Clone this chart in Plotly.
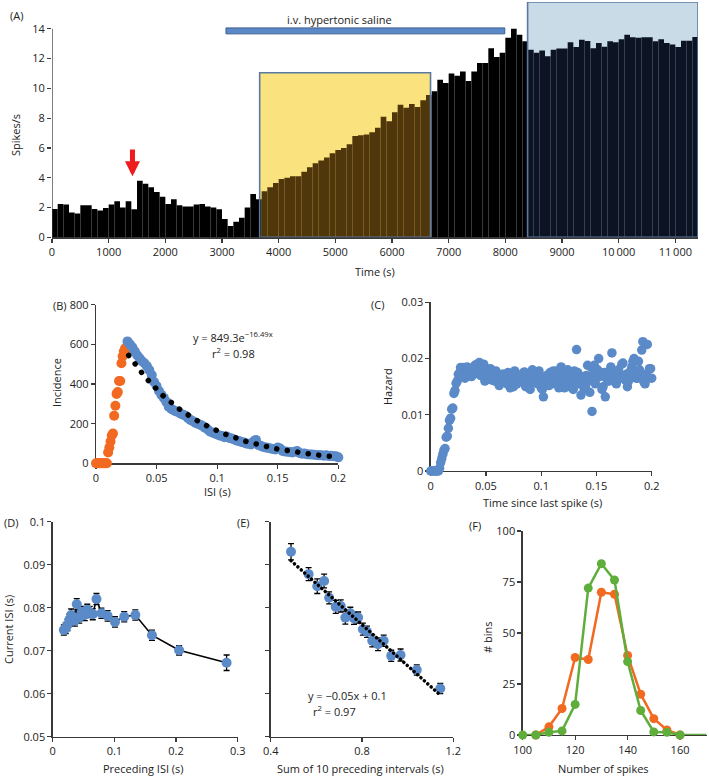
import numpy as np
import plotly.graph_objects as go

W, H = 709, 776
def px(x): return x / W
def py(y): return 1 - y / H

FONT = "Open Sans"
AX = "#3a3a3a"
BLUE = "#5b8ac8"
ORANGE = "#f26a22"
GREEN = "#5fae3b"

# ---------------- Panel A data ----------------
bin_width_s = 100
rate_spikes_s = [1.9, 2.24, 2.2, 1.66, 1.6, 2.15, 2.15, 1.9, 1.8, 1.97, 2.2, 2.42, 2.0, 2.42, 1.88,
                 3.8, 3.6, 3.36, 3.05, 2.73, 2.24, 2.55, 2.15, 2.06, 2.06, 2.2, 2.24, 2.06, 2.0, 1.88,
                 1.23, 0.76, 1.05, 1.32, 2.0, 2.9, 2.55,
                 3.1, 3.36, 3.65, 3.92, 4.0, 4.1, 4.1, 4.4, 4.7, 4.98, 5.16, 5.36, 5.65, 5.87, 6.0, 6.25,
                 6.8, 6.85, 6.9, 7.05, 7.35, 8.1, 7.8, 8.4, 8.9, 8.7, 8.95, 8.75, 9.2, 9.55,
                 9.8, 10.58, 10.36, 11.0, 10.85, 11.14, 10.5, 11.14, 11.7, 11.7, 12.7, 12.1, 12.4, 13.4,
                 14.0, 13.6, 13.16,
                 12.6, 12.4, 12.55, 12.15, 12.6, 12.67, 12.67, 13.1, 12.78, 13.27, 13.18, 12.7, 13.05,
                 12.8, 13.16, 13.1, 13.3, 13.6, 13.43, 13.4, 13.43, 13.43, 13.16, 13.3, 13.05, 12.94,
                 12.78, 13.2, 13.2, 13.45]
a_xticks = [0, 1000, 2000, 3000, 4000, 5000, 6000, 7000, 8000, 9000, 10000, 11000]
a_xticktext = ["0", "1000", "2000", "3000", "4000", "5000", "6000", "7000", "8000", "9000",
               "10\u2009000", "11\u2009000"]
a_yticks = [0, 2, 4, 6, 8, 10, 12, 14]
yellow_box = [3665, 6680, 11.05]
blue_box = [8393, 11400, 15.8]
saline_period = [3070, 7990]
saline_level = [13.66, 14.06]
arrow_time = 1420
arrow_y = [4.1, 6.0]

# ---------------- Panel B data ----------------
b_orange_x = [0.000, 0.001, 0.002, 0.003, 0.004, 0.005, 0.006, 0.007, 0.008, 0.009, 0.010, 0.011,
              0.012, 0.013, 0.014, 0.015, 0.016, 0.017, 0.018, 0.019, 0.020, 0.021, 0.022, 0.023,
              0.024, 0.025]
b_orange_y = [0, 0, 0, 0, 0, 0, 0, 0, 0, 0, 55, 80, 110, 140, 150, 240, 290, 350, 360, 415, 415,
              505, 540, 565, 580, 560]
b_blue_start, b_blue_step = 0.026, 0.002
b_blue_y = [615, 600, 585, 565, 545, 530, 515, 505, 490, 470, 445, 410, 390, 365, 345, 330, 310,
            285, 275, 268, 262, 258, 250, 245, 240, 228, 218, 212, 205, 200, 195, 188, 180, 172,
            160, 155, 150, 145, 140, 138, 132, 135, 128, 125, 120, 115, 112, 108, 105, 100, 98, 95,
            110, 118, 92, 88, 82, 80, 78, 75, 72, 70, 80, 75, 62, 60, 58, 57, 55, 58, 62, 52, 48,
            50, 46, 45, 44, 43, 42, 40, 41, 38, 40, 37, 38, 36, 35, 30]
b_fit_a, b_fit_k = 849.3, -16.49
b_fit_range = [0.027, 0.195]

# ---------------- Panel C data ----------------
c_rise_x = [0.000, 0.001, 0.002, 0.003, 0.004, 0.005, 0.006, 0.007, 0.008, 0.009, 0.010, 0.011,
            0.012, 0.013, 0.014, 0.015, 0.016, 0.017, 0.018, 0.019, 0.020, 0.021, 0.022, 0.023,
            0.024, 0.025, 0.026, 0.027]
c_rise_y = [0, 0, 0, 0, 0, 0, 0, 0, 0.0005, 0.0015, 0.0022, 0.0030, 0.0037, 0.0040, 0.0060,
            0.0062, 0.0076, 0.0090, 0.0094, 0.0110, 0.0112, 0.0138, 0.0143, 0.0156, 0.0160,
            0.0172, 0.0174, 0.0184]
c_even_start, c_odd_start, c_step = 0.028, 0.029, 0.002
c_even_y = [0.0180, 0.0184, 0.0176, 0.0170, 0.0182, 0.0175, 0.0188, 0.0190, 0.0193, 0.0186,
            0.0190, 0.0180, 0.0170, 0.0182, 0.0165, 0.0160, 0.0168, 0.0152, 0.0165, 0.0172,
            0.0160, 0.0175, 0.0148, 0.0168, 0.0178, 0.0155, 0.0170, 0.0162, 0.0175, 0.0150,
            0.0165, 0.0145, 0.0180, 0.0158, 0.0170, 0.0178, 0.0148, 0.0132, 0.0165, 0.0158,
            0.0175, 0.0155, 0.0168, 0.0178, 0.0148, 0.0185, 0.0175, 0.0162, 0.0180, 0.0150,
            0.0168, 0.0178, 0.0216, 0.0155, 0.0135, 0.0160, 0.0150, 0.0188, 0.0140, 0.0106,
            0.0188, 0.0165, 0.0200, 0.0175, 0.0150, 0.0132, 0.0160, 0.0178, 0.0210, 0.0165,
            0.0155, 0.0180, 0.0170, 0.0192, 0.0162, 0.0150, 0.0175, 0.0185, 0.0200, 0.0165,
            0.0195, 0.0170, 0.0230, 0.0155, 0.0225, 0.0182, 0.0165]
c_odd_y = [0.0172, 0.0165, 0.0185, 0.0178, 0.0168, 0.0180, 0.0174, 0.0182, 0.0170, 0.0178,
           0.0160, 0.0172, 0.0176, 0.0162, 0.0170, 0.0178, 0.0158, 0.0165, 0.0172, 0.0160,
           0.0155, 0.0170, 0.0165, 0.0150, 0.0172, 0.0160, 0.0168, 0.0158, 0.0176, 0.0162,
           0.0150, 0.0168, 0.0160, 0.0172, 0.0155, 0.0165, 0.0145, 0.0160, 0.0170, 0.0152,
           0.0165, 0.0178, 0.0160, 0.0172, 0.0158, 0.0170, 0.0148, 0.0165, 0.0175, 0.0160,
           0.0145, 0.0165, 0.0175, 0.0155, 0.0168, 0.0145, 0.0170, 0.0160, 0.0185, 0.0172,
           0.0155, 0.0180, 0.0168, 0.0145, 0.0175, 0.0165, 0.0160, 0.0185, 0.0170, 0.0158,
           0.0176, 0.0165, 0.0190, 0.0168, 0.0172, 0.0160, 0.0178, 0.0195, 0.0170, 0.0165,
           0.0180, 0.0215, 0.0158, 0.0172, 0.0165, 0.0182]

# ---------------- Panel D data ----------------
d_prev_isi = [0.018, 0.021, 0.024, 0.027, 0.030, 0.033, 0.036, 0.039, 0.043, 0.047, 0.052, 0.056,
              0.060, 0.065, 0.071, 0.079, 0.089, 0.101, 0.116, 0.134, 0.161, 0.205, 0.282]
d_cur_isi = [0.0748, 0.0752, 0.0760, 0.0772, 0.0783, 0.0778, 0.0770, 0.0808, 0.0777, 0.0790,
             0.0783, 0.0795, 0.0790, 0.0785, 0.0820, 0.0787, 0.0781, 0.0767, 0.0779, 0.0783,
             0.0736, 0.0701, 0.0672]
d_err = [0.0012, 0.0012, 0.0013, 0.0013, 0.0014, 0.0013, 0.0013, 0.0013, 0.0013, 0.0013, 0.0013,
         0.0013, 0.0013, 0.0013, 0.0013, 0.0012, 0.0012, 0.0012, 0.0012, 0.0012, 0.0012, 0.0011,
         0.0018]

# ---------------- Panel E data ----------------
e_sum10 = [0.489, 0.566, 0.604, 0.634, 0.656, 0.685, 0.707, 0.727, 0.749, 0.765, 0.783, 0.804,
           0.822, 0.845, 0.870, 0.895, 0.928, 0.969, 1.040, 1.143]
e_cur_isi = [0.0930, 0.0878, 0.0850, 0.0862, 0.0823, 0.0802, 0.0804, 0.0777, 0.0787, 0.0775,
             0.0777, 0.0750, 0.0744, 0.0723, 0.0715, 0.0723, 0.0688, 0.0690, 0.0655, 0.0612]
e_err = [0.0019, 0.0015, 0.0017, 0.0016, 0.0014, 0.0015, 0.0014, 0.0015, 0.0014, 0.0014, 0.0013,
         0.0014, 0.0013, 0.0014, 0.0015, 0.0013, 0.0013, 0.0014, 0.0012, 0.0012]

# ---------------- Panel F data ----------------
f_green_x = [100, 105, 110, 115, 120, 125, 130, 135, 140, 145, 150, 155, 160, 165, 170]
f_green_y = [0, 0, 1.3, 2, 15, 72, 84, 76, 36, 12, 1.5, 1.3, 0, 0, 0]
f_orange_x = [105, 110, 115, 120, 125, 130, 135, 140, 145, 150, 155, 160]
f_orange_y = [0, 4, 13, 38, 37, 70, 69, 39, 20, 8, 2.5, 0]

# ======================================================
fig = go.Figure()
NOLINE = dict(width=0)

# Panel A bars
t_centers = [bin_width_s * (i + 0.5) for i in range(len(rate_spikes_s))]
def bar_color(t):
    if yellow_box[0] <= t <= yellow_box[1]:
        return "#50360b"
    if blue_box[0] <= t <= blue_box[1]:
        return "#0c1424"
    return "#000000"
fig.add_trace(go.Bar(x=t_centers, y=rate_spikes_s, width=bin_width_s,
                     marker=dict(color=[bar_color(t) for t in t_centers], line=NOLINE),
                     xaxis="x", yaxis="y"))

# Panel B
b_blue_x = [b_blue_start + b_blue_step * i for i in range(len(b_blue_y))]
fig.add_trace(go.Scatter(x=b_orange_x, y=b_orange_y, mode="markers",
                         marker=dict(color=ORANGE, size=10, line=NOLINE), cliponaxis=False,
                         xaxis="x2", yaxis="y2"))
fig.add_trace(go.Scatter(x=b_blue_x, y=b_blue_y, mode="markers",
                         marker=dict(color=BLUE, size=10, line=NOLINE), cliponaxis=False,
                         xaxis="x2", yaxis="y2"))
fit_x = np.linspace(b_fit_range[0], b_fit_range[1], 300)
fig.add_trace(go.Scatter(x=fit_x, y=b_fit_a * np.exp(b_fit_k * fit_x), mode="lines",
                         line=dict(color="black", width=5.5, dash="0.1px,10.5px"),
                         xaxis="x2", yaxis="y2"))

# Panel C
c_x = (list(c_rise_x) + [c_even_start + c_step * i for i in range(len(c_even_y))]
       + [c_odd_start + c_step * i for i in range(len(c_odd_y))])
c_y = list(c_rise_y) + list(c_even_y) + list(c_odd_y)
fig.add_trace(go.Scatter(x=c_x, y=c_y, mode="markers",
                         marker=dict(color=BLUE, size=9.5, line=NOLINE),
                         cliponaxis=False, xaxis="x3", yaxis="y3"))

# Panel D
fig.add_trace(go.Scatter(x=d_prev_isi, y=d_cur_isi, mode="lines+markers",
                         line=dict(color="black", width=1.6),
                         marker=dict(color=BLUE, size=10, line=NOLINE),
                         error_y=dict(type="data", array=d_err, color="black", thickness=1.3, width=3),
                         cliponaxis=False, xaxis="x4", yaxis="y4"))

# Panel E
slope, intercept = np.polyfit(e_sum10, e_cur_isi, 1)
tr_x = np.array([min(e_sum10), max(e_sum10)])
fig.add_trace(go.Scatter(x=e_sum10, y=e_cur_isi, mode="markers",
                         marker=dict(color=BLUE, size=10, line=NOLINE),
                         error_y=dict(type="data", array=e_err, color="black", thickness=1.3, width=3),
                         cliponaxis=False, xaxis="x5", yaxis="y5"))
fig.add_trace(go.Scatter(x=tr_x, y=slope * tr_x + intercept, mode="lines",
                         line=dict(color="black", width=3.5, dash="0.1px,4.5px"),
                         xaxis="x5", yaxis="y5"))

# Panel F
fig.add_trace(go.Scatter(x=f_orange_x, y=f_orange_y, mode="lines+markers",
                         line=dict(color=ORANGE, width=2.5),
                         marker=dict(color=ORANGE, size=9, line=NOLINE, opacity=1),
                         cliponaxis=False, xaxis="x6", yaxis="y6"))
fig.add_trace(go.Scatter(x=f_green_x, y=f_green_y, mode="lines+markers",
                         line=dict(color=GREEN, width=2.5),
                         marker=dict(color=GREEN, size=[9] * 13 + [0, 0], line=NOLINE, opacity=1),
                         cliponaxis=False, xaxis="x6", yaxis="y6"))

# ---------------- axes ----------------
def ax(domain, rng, anchor, tickvals=None, ticktext=None, showline=True, showticklabels=True):
    d = dict(domain=domain, range=rng, anchor=anchor, showline=showline, linecolor=AX,
             linewidth=1.3, ticks="outside", ticklen=4, tickwidth=1.2, tickcolor=AX,
             showgrid=False, zeroline=False, layer="below traces", automargin=False,
             showticklabels=showticklabels, fixedrange=True,
             tickfont=dict(family=FONT, size=11, color="#222"))
    if tickvals is not None:
        d["tickvals"] = tickvals
        d["ticktext"] = ticktext if ticktext is not None else [str(v) for v in tickvals]
    return d

dec_x = [0, 0.05, 0.1, 0.15, 0.2]
dec_xt = ["0", "0.05", "0.1", "0.15", "0.2"]
isi_y = [0.05, 0.06, 0.07, 0.08, 0.09, 0.1]
isi_yt = ["0.05", "0.06", "0.07", "0.08", "0.09", "0.1"]

fig.update_layout(
    width=W, height=H, margin=dict(l=0, r=0, t=0, b=0, pad=0), autosize=False,
    paper_bgcolor="white", plot_bgcolor="white", showlegend=False, hovermode=False,
    font=dict(family=FONT, size=11, color="#222"),
    xaxis=ax([px(52), px(698)], [0, 11400], "y", a_xticks, a_xticktext),
    yaxis=ax([py(237.3), py(2)], [0, 15.8], "x", a_yticks, showline=False),
    xaxis2=ax([px(96), px(338.3)], [0, 0.2], "y2", dec_x, dec_xt),
    yaxis2=ax([py(463.3), py(304.7)], [0, 800], "x2", [0, 200, 400, 600, 800]),
    xaxis3=ax([px(430.7), px(651.7)], [0, 0.2], "y3", dec_x, dec_xt),
    yaxis3=ax([py(471), py(302.3)], [0, 0.03], "x3", [0, 0.01, 0.02, 0.03],
              ["0", "0.01", "0.02", "0.03"]),
    xaxis4=ax([px(52.7), px(237.7)], [0, 0.3], "y4", [0, 0.1, 0.2, 0.3], ["0", "0.1", "0.2", "0.3"]),
    yaxis4=ax([py(736.7), py(521.7)], [0.05, 0.1], "x4", isi_y, isi_yt),
    xaxis5=ax([px(270.7), px(453.3)], [0.4, 1.2], "y5", [0.4, 0.8, 1.2], ["0.4", "0.8", "1.2"]),
    yaxis5=ax([py(736.7), py(521.7)], [0.05, 0.1], "x5", isi_y, showticklabels=False),
    xaxis6=ax([px(522.7), px(707.3)], [100, 170.4], "y6", [100, 120, 140, 160]),
    yaxis6=ax([py(735), py(531)], [0, 100], "x6", [0, 25, 50, 75, 100]),
)

shapes = [
    dict(type="rect", xref="x", yref="y", x0=yellow_box[0], x1=yellow_box[1], y0=0, y1=yellow_box[2],
         fillcolor="#fae27e", line=dict(width=0), layer="below"),
    dict(type="rect", xref="x", yref="y", x0=blue_box[0], x1=blue_box[1], y0=0, y1=blue_box[2],
         fillcolor="#c9dbe7", line=dict(width=0), layer="below"),
    dict(type="rect", xref="x", yref="y", x0=yellow_box[0], x1=yellow_box[1], y0=0, y1=yellow_box[2],
         fillcolor="rgba(0,0,0,0)", line=dict(color="#5a7aa3", width=1.6), layer="above"),
    dict(type="rect", xref="x", yref="y", x0=blue_box[0], x1=blue_box[1], y0=0, y1=blue_box[2],
         fillcolor="rgba(0,0,0,0)", line=dict(color="#5a7aa3", width=1.6), layer="above"),
    dict(type="rect", xref="x", yref="y", x0=saline_period[0], x1=saline_period[1],
         y0=saline_level[0], y1=saline_level[1], fillcolor="#5b88c6",
         line=dict(color="#3e5f8e", width=1)),
    dict(type="line", xref="x", yref="y", x0=0, x1=0, y0=0, y1=14, line=dict(color=AX, width=1.3)),
]
fig.update_layout(shapes=shapes)

def txt(x, y, s, angle=0, size=11, xanchor="center"):
    return dict(x=px(x), y=py(y), xref="paper", yref="paper", text=s, showarrow=False,
                textangle=angle, xanchor=xanchor, yanchor="middle",
                font=dict(family=FONT, size=size, color="#222"))

annotations = [
    txt(16, 15, "(A)"),
    txt(15, 135, "Spikes/s", angle=-90),
    txt(375, 271, "Time (s)"),
    txt(339, 19, "i.v. hypertonic saline"),
    txt(60, 306, "(B)"),
    txt(56, 383, "Incidence", angle=-90),
    txt(217, 491, "ISI (s)"),
    txt(233, 337, "y = 849.3e<sup>\u221216.49x</sup>"),
    txt(233, 353, "r<sup>2</sup> = 0.98"),
    txt(378, 305, "(C)"),
    txt(387, 387, "Hazard", angle=-90),
    txt(542, 502, "Time since last spike (s)"),
    txt(11, 522, "(D)"),
    txt(8, 630, "Current ISI (s)", angle=-90),
    txt(143, 768, "Preceding ISI (s)"),
    txt(243, 522, "(E)"),
    txt(347, 695, "y = \u22120.05x + 0.1"),
    txt(334, 711, "r<sup>2</sup> = 0.97"),
    txt(360, 768, "Sum of 10 preceding intervals (s)"),
    txt(475, 525, "(F)"),
    txt(487, 638, "# bins", angle=-90),
    txt(603, 768, "Number of spikes"),
    dict(x=arrow_time, y=arrow_y[0], ax=arrow_time, ay=arrow_y[1], xref="x", yref="y",
         axref="x", ayref="y", text="", showarrow=True, arrowhead=2, arrowsize=0.6,
         arrowwidth=5, arrowcolor="#ee1c1c"),
]
fig.update_layout(annotations=annotations)

post_js = """
document.documentElement.style.margin = '0';
document.documentElement.style.padding = '0';
document.body.style.margin = '0';
document.body.style.padding = '0';
document.body.style.overflow = 'hidden';
document.querySelectorAll('path.js-line').forEach(function(p){
  var d = p.style.strokeDasharray;
  if (d && d !== 'none' && d.indexOf('0.1px') === 0) { p.style.strokeLinecap = 'round'; }
});
"""
fig.write_html("out.html", post_script=post_js, config={"displayModeBar": False, "staticPlot": True})
